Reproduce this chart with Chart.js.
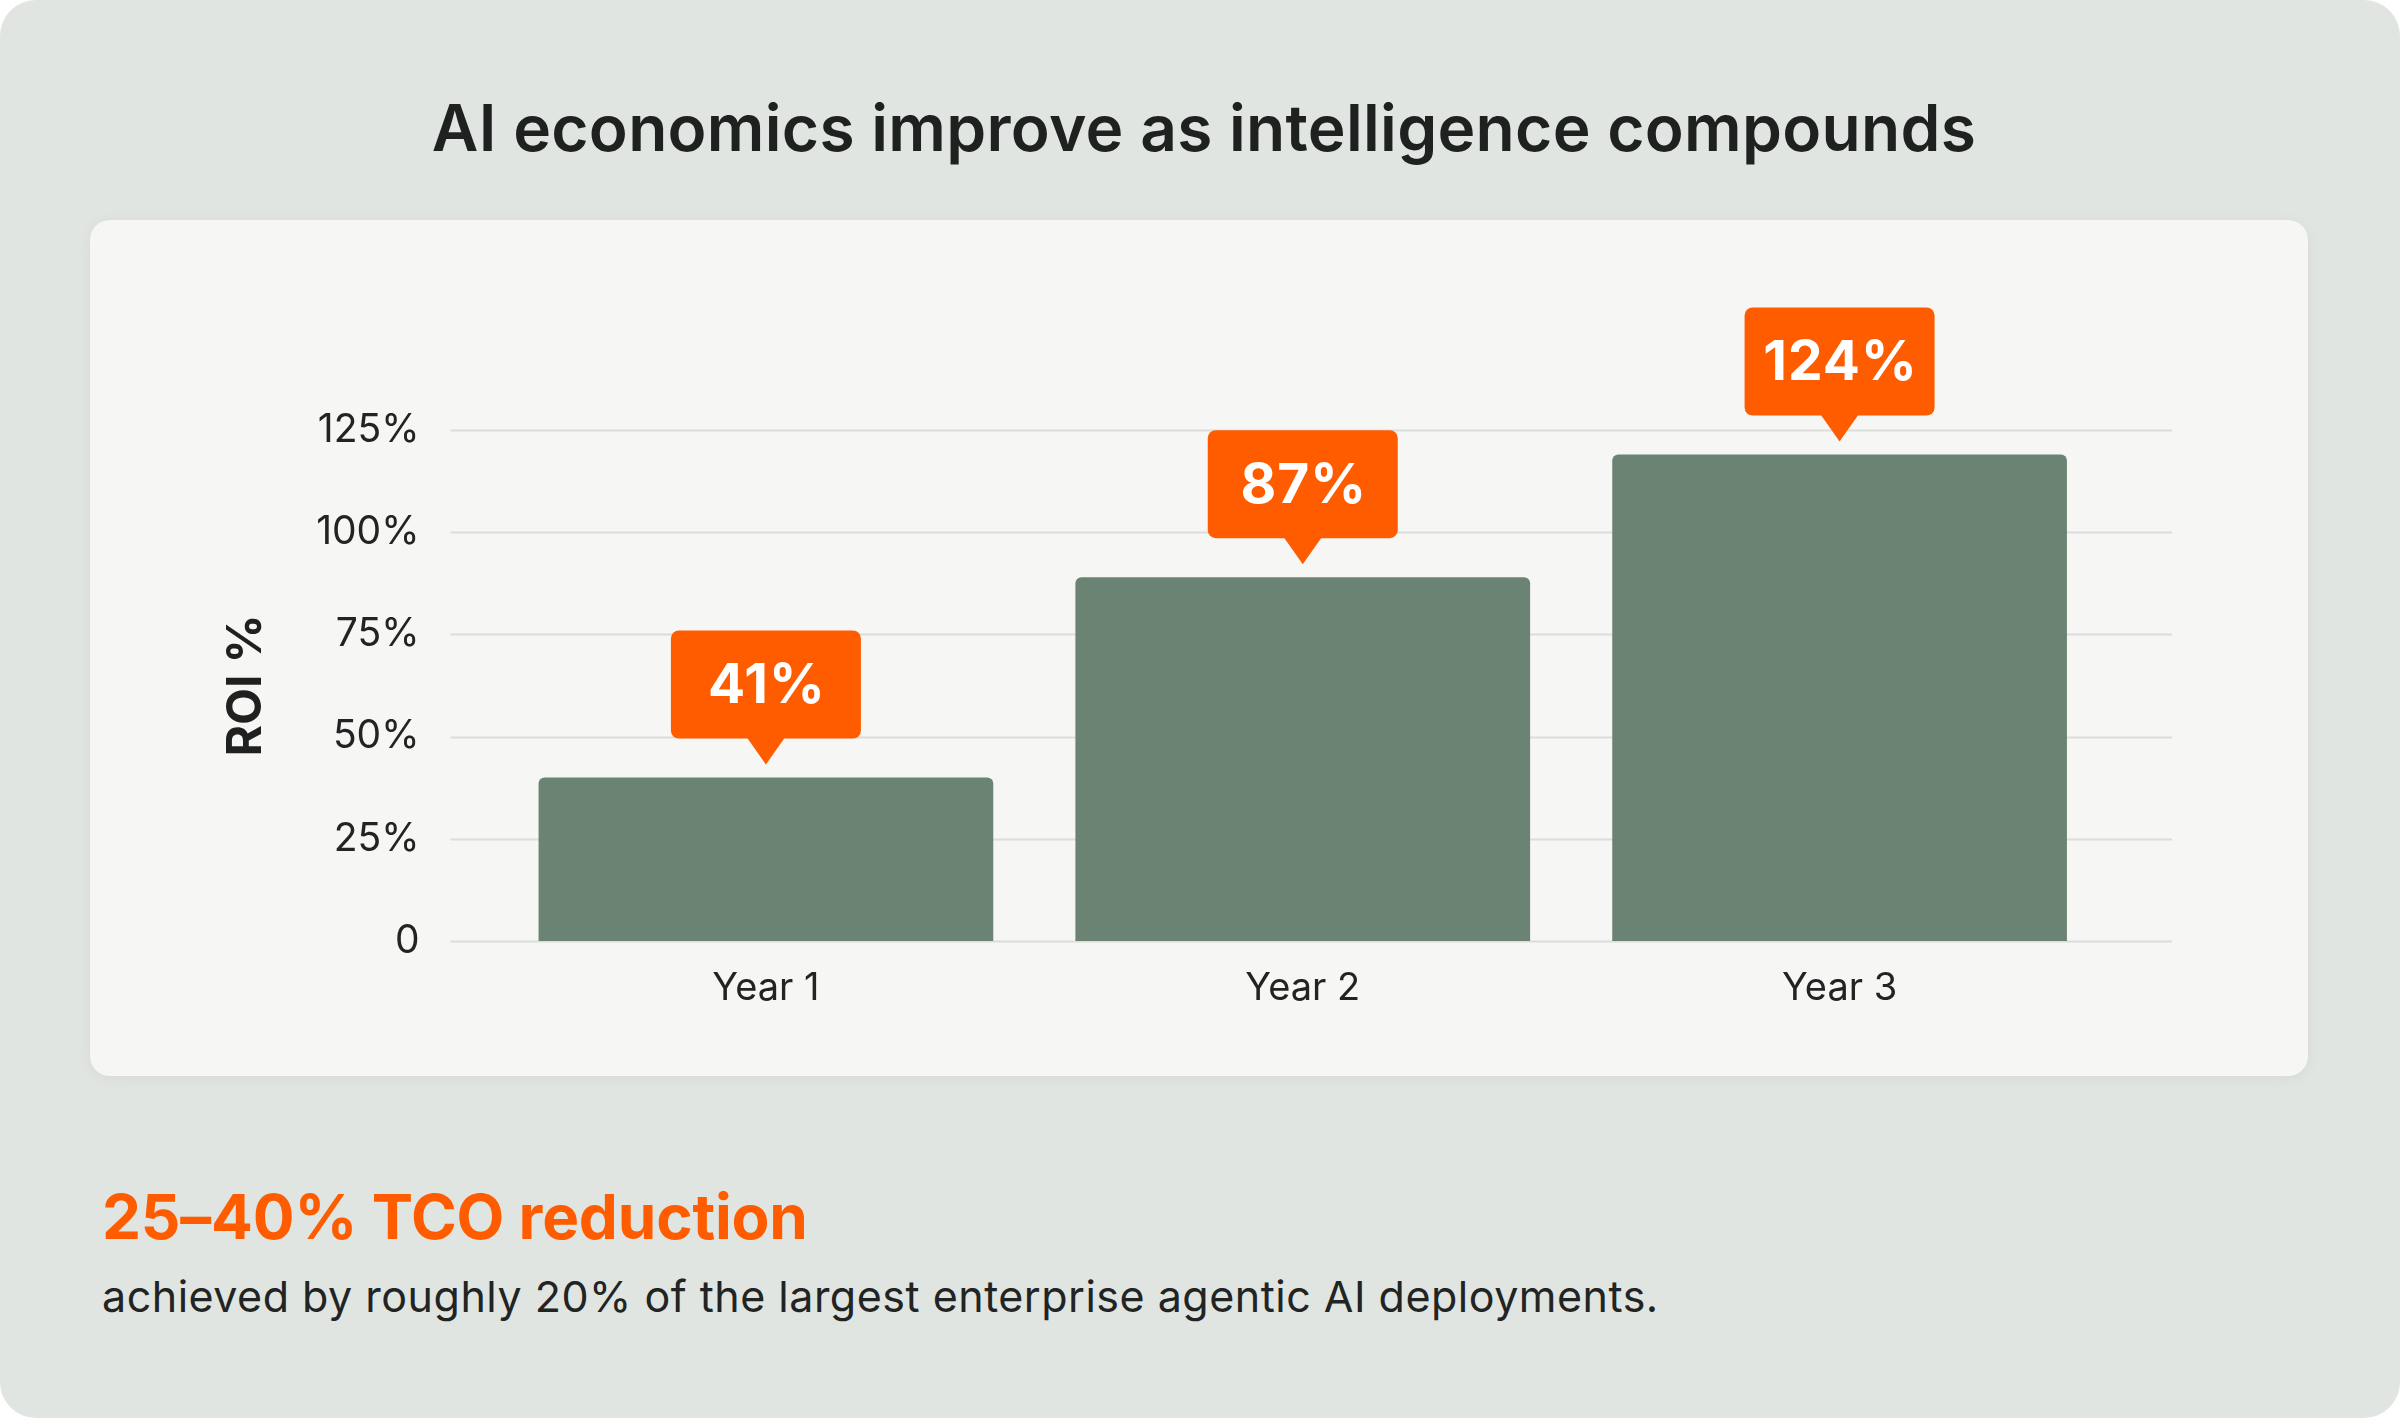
<!DOCTYPE html>
<html>
<head>
<meta charset="utf-8">
<script src="https://cdn.jsdelivr.net/npm/chart.js@4.4.1/dist/chart.umd.min.js"></script>
<style>
  html, body { margin: 0; padding: 0; background: #ffffff; }
  .page {
    position: relative; width: 2400px; height: 1418px;
    background: #e0e5e1; border-radius: 36px; overflow: hidden;
    font-family: Inter, "Noto Sans", sans-serif; color: #1f2120;
  }
  .title {
    position: absolute; left: 0; width: 2408px; top: 96px;
    text-align: center; font-size: 64px; line-height: 1; font-weight: 600;
    letter-spacing: 0.3px;
  }
  .card {
    position: absolute; left: 90px; top: 220px; width: 2218px; height: 856px;
    background: #f6f6f5; border-radius: 20px;
    box-shadow: 0 2px 14px rgba(0,0,0,0.05);
  }
  .card canvas { position: absolute; left: 0; top: 0; }
  .headline {
    position: absolute; left: 102px; top: 1186px;
    font-size: 62px; line-height: 1; font-weight: 700; color: #ff5c00;
    letter-spacing: -0.2px;
  }
  .note {
    position: absolute; left: 102px; top: 1275px;
    font-size: 43px; line-height: 1; font-weight: 400; color: #222423;
    letter-spacing: 0.5px;
  }
</style>
</head>
<body>
<div class="page">
  <div class="title">AI economics improve as intelligence compounds</div>
  <div class="card">
    <canvas id="roiChart" width="2218" height="856"></canvas>
  </div>
  <div class="headline">25–40% TCO reduction</div>
  <div class="note">achieved by roughly 20% of the largest enterprise agentic AI deployments.</div>
</div>
<script>
// chart data
const categories = ['Year 1', 'Year 2', 'Year 3'];
const roiValues = [40, 89, 119];          // bar heights as drawn
const calloutLabels = ['41%', '87%', '124%'];
const yTickStep = 25;
const yMax = 125;

const BAR_COLOR = '#6b8372';
const ORANGE = '#ff5c00';
const GRID_COLOR = '#dcdcdc';
const FONT = 'Inter, "Noto Sans", sans-serif';

// horizontal gridlines that run a bit past the plot area on both sides
const extendedGrid = {
  id: 'extendedGrid',
  beforeDatasetsDraw(chart) {
    const { ctx, chartArea, scales: { y } } = chart;
    ctx.save();
    ctx.strokeStyle = GRID_COLOR;
    ctx.lineWidth = 2;
    y.ticks.forEach(t => {
      const py = Math.round(y.getPixelForValue(t.value)) + 0.5;
      ctx.beginPath();
      ctx.moveTo(chartArea.left - 47, py);
      ctx.lineTo(chartArea.right + 64, py);
      ctx.stroke();
    });
    ctx.restore();
  }
};

// orange speech-bubble labels above each bar
const callouts = {
  id: 'callouts',
  afterDatasetsDraw(chart) {
    const { ctx } = chart;
    const bars = chart.getDatasetMeta(0).data;
    ctx.save();
    bars.forEach((bar, i) => {
      const tipY = bar.y - 13;
      const boxBottom = tipY - 26;
      const boxH = 108, boxW = 190, r = 8;
      const left = bar.x - boxW / 2, top = boxBottom - boxH;
      ctx.fillStyle = ORANGE;
      ctx.beginPath();
      ctx.roundRect(left, top, boxW, boxH, r);
      ctx.fill();
      ctx.beginPath();
      ctx.moveTo(bar.x - 19, boxBottom - 1);
      ctx.lineTo(bar.x + 19, boxBottom - 1);
      ctx.lineTo(bar.x, tipY);
      ctx.closePath();
      ctx.fill();
      ctx.fillStyle = '#ffffff';
      ctx.font = '700 55px ' + FONT;
      ctx.letterSpacing = '1px';
      ctx.textAlign = 'center';
      ctx.textBaseline = 'middle';
      ctx.fillText(calloutLabels[i], bar.x + 1, top + boxH / 2 + 2);
    });
    ctx.restore();
  }
};

new Chart(document.getElementById('roiChart'), {
  type: 'bar',
  data: {
    labels: categories,
    datasets: [{
      data: roiValues,
      backgroundColor: BAR_COLOR,
      borderRadius: { topLeft: 6, topRight: 6, bottomLeft: 0, bottomRight: 0 },
      borderSkipped: 'bottom',
      categoryPercentage: 1,
      barPercentage: 0.847
    }]
  },
  options: {
    responsive: false,
    devicePixelRatio: 1,
    animation: false,
    layout: { padding: { left: 128, right: 200, top: 210, bottom: 35 } },
    plugins: { legend: { display: false }, tooltip: { enabled: false } },
    scales: {
      x: {
        grid: { display: false },
        border: { display: false },
        ticks: { color: '#222423', font: { family: FONT, size: 38 }, padding: 17 },
        afterFit(scale) { scale.height = 100; }
      },
      y: {
        min: 0,
        max: yMax,
        grid: { display: false },
        border: { display: false },
        ticks: {
          stepSize: yTickStep,
          color: '#222423',
          font: { family: FONT, size: 39 },
          padding: 70,
          callback: v => v === 0 ? '0' : v + '%'
        },
        title: {
          display: true,
          text: 'ROI %',
          color: '#1f2120',
          font: { family: FONT, size: 48, weight: '700' },
          padding: 0
        },
        afterFit(scale) { scale.width = 279.5; }
      }
    }
  },
  plugins: [extendedGrid, callouts]
});
</script>
</body>
</html>
